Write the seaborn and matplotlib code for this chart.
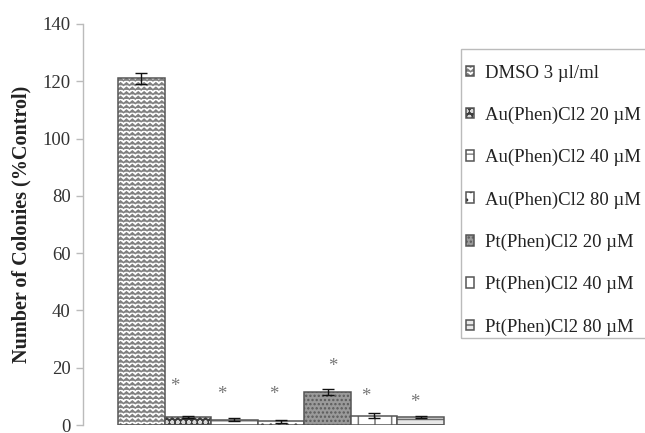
import warnings
import numpy as np
import pandas as pd
import matplotlib
matplotlib.use("Agg")
import matplotlib.pyplot as plt
import matplotlib.hatch as mhatch
from matplotlib.path import Path
from matplotlib.patches import Rectangle
from matplotlib.colors import to_rgba
import seaborn as sns

warnings.filterwarnings("ignore")

# ---- data ----
labels = ["DMSO 3 \u00b5l/ml", "Au(Phen)Cl2 20 \u00b5M", "Au(Phen)Cl2 40 \u00b5M",
          "Au(Phen)Cl2 80 \u00b5M", "Pt(Phen)Cl2 20 \u00b5M", "Pt(Phen)Cl2 40 \u00b5M",
          "Pt(Phen)Cl2 80 \u00b5M"]
values = [121.0, 2.7, 1.8, 1.3, 11.5, 3.3, 2.7]
errors = [2.0, 0.3, 0.5, 0.6, 1.2, 0.8, 0.3]
star_heights = [None, 13.3, 10.5, 10.5, 20.3, 9.8, 7.7]
yticks = [0, 20, 40, 60, 80, 100, 120, 140]

# ---- styles ----
face = ["white", "#3c3c3c", "white", "white", "#9a9a9a", "white", "#e8e8e8"]
hatches = ["zz", "ooo", "--", "..", "....", "|", "---"]
hatch_cols = ["#808080", "#d8d8d8", "#8a8a8a", "#333333", "#5a5a5a", "#777777", "#6a6a6a"]
star_dx = [0, -0.28, -0.26, -0.15, 0.12, -0.17, -0.12]


class ZigZagHatch(mhatch.HatchPatternBase):
    def __init__(self, hatch, density):
        self.num_lines = hatch.count('z') * 11
        self.teeth = 17
        self.num_vertices = self.num_lines * (2 * self.teeth + 1)

    def set_vertices_and_codes(self, vertices, codes):
        if self.num_lines == 0:
            return
        per = 2 * self.teeth + 1
        xs = np.linspace(0, 1, per)
        amp = 0.28 / self.num_lines
        off = np.where(np.arange(per) % 2 == 0, -amp, amp)
        for i in range(self.num_lines):
            s = (i + 0.5) / self.num_lines
            vertices[i * per:(i + 1) * per, 0] = xs
            vertices[i * per:(i + 1) * per, 1] = s + off
            codes[i * per] = Path.MOVETO
            codes[i * per + 1:(i + 1) * per] = Path.LINETO


mhatch._hatch_types.append(ZigZagHatch)

sns.set_theme(style="white")
plt.rcParams["font.family"] = ["Liberation Serif", "DejaVu Serif"]
plt.rcParams["hatch.linewidth"] = 1.1

df = pd.DataFrame({"label": labels, "value": values})

fig = plt.figure(figsize=(6.45, 4.33), dpi=100)
ax = fig.add_axes([83 / 645, 8 / 433, 367 / 645, 401 / 433])

sns.barplot(data=df, x="label", y="value", hue="label", palette=face,
            width=1.0, edgecolor="#555555", linewidth=1.1, legend=False,
            errorbar=None, ax=ax, saturation=1)

bars = []
for cont in ax.containers:
    for b in cont:
        bars.append(b)
for b, h, hc in zip(bars, hatches, hatch_cols):
    b.set_hatch(h)
    if hasattr(b, "set_hatchcolor"):
        b.set_hatchcolor(hc)
    else:
        b._hatch_color = to_rgba(hc)

ax.errorbar(np.arange(len(values)), values, yerr=errors, fmt="none",
            ecolor="#111111", elinewidth=1.0, capsize=4, capthick=1.0)

for i, (h, dx) in enumerate(zip(star_heights, star_dx)):
    if h is not None:
        ax.text(i + dx, h, "*", ha="center", va="center", fontsize=13.5,
                color="#777777")

ax.set_xlim(-1.25, 6.63)
ax.set_ylim(0, 140)
ax.set_yticks(yticks)
ax.set_xticks([])
ax.set_xlabel("")
ax.set_ylabel("Number of Colonies (%Control)", fontsize=14.5,
              fontweight="bold", color="#222222")
ax.yaxis.set_label_coords(-0.141, 0.5)
for s in ["top", "right", "bottom"]:
    ax.spines[s].set_visible(False)
ax.spines["left"].set_color("#bbbbbb")
ax.spines["left"].set_linewidth(1.0)
ax.tick_params(axis="y", which="major", left=True, length=5, width=1,
               color="#bbbbbb", labelsize=13.5, labelcolor="#333333", pad=4)

# legend frame drawn separately so the content can be placed freely
fig.patches.append(Rectangle((461 / 645, 1 - 338 / 433), 200 / 645, 289 / 433,
                             transform=fig.transFigure, facecolor="none",
                             edgecolor="#bbbbbb", linewidth=1.0))
leg = fig.legend(bars, labels, loc="upper left",
                 bbox_to_anchor=(466 / 645, 1 - 64.5 / 433), borderaxespad=0,
                 frameon=False, fontsize=13.5,
                 handlelength=0.45, handleheight=0.5, handletextpad=0.55,
                 labelspacing=1.335, borderpad=0)
for t in leg.get_texts():
    t.set_color("#222222")

fig.savefig("out.png", dpi=100)
